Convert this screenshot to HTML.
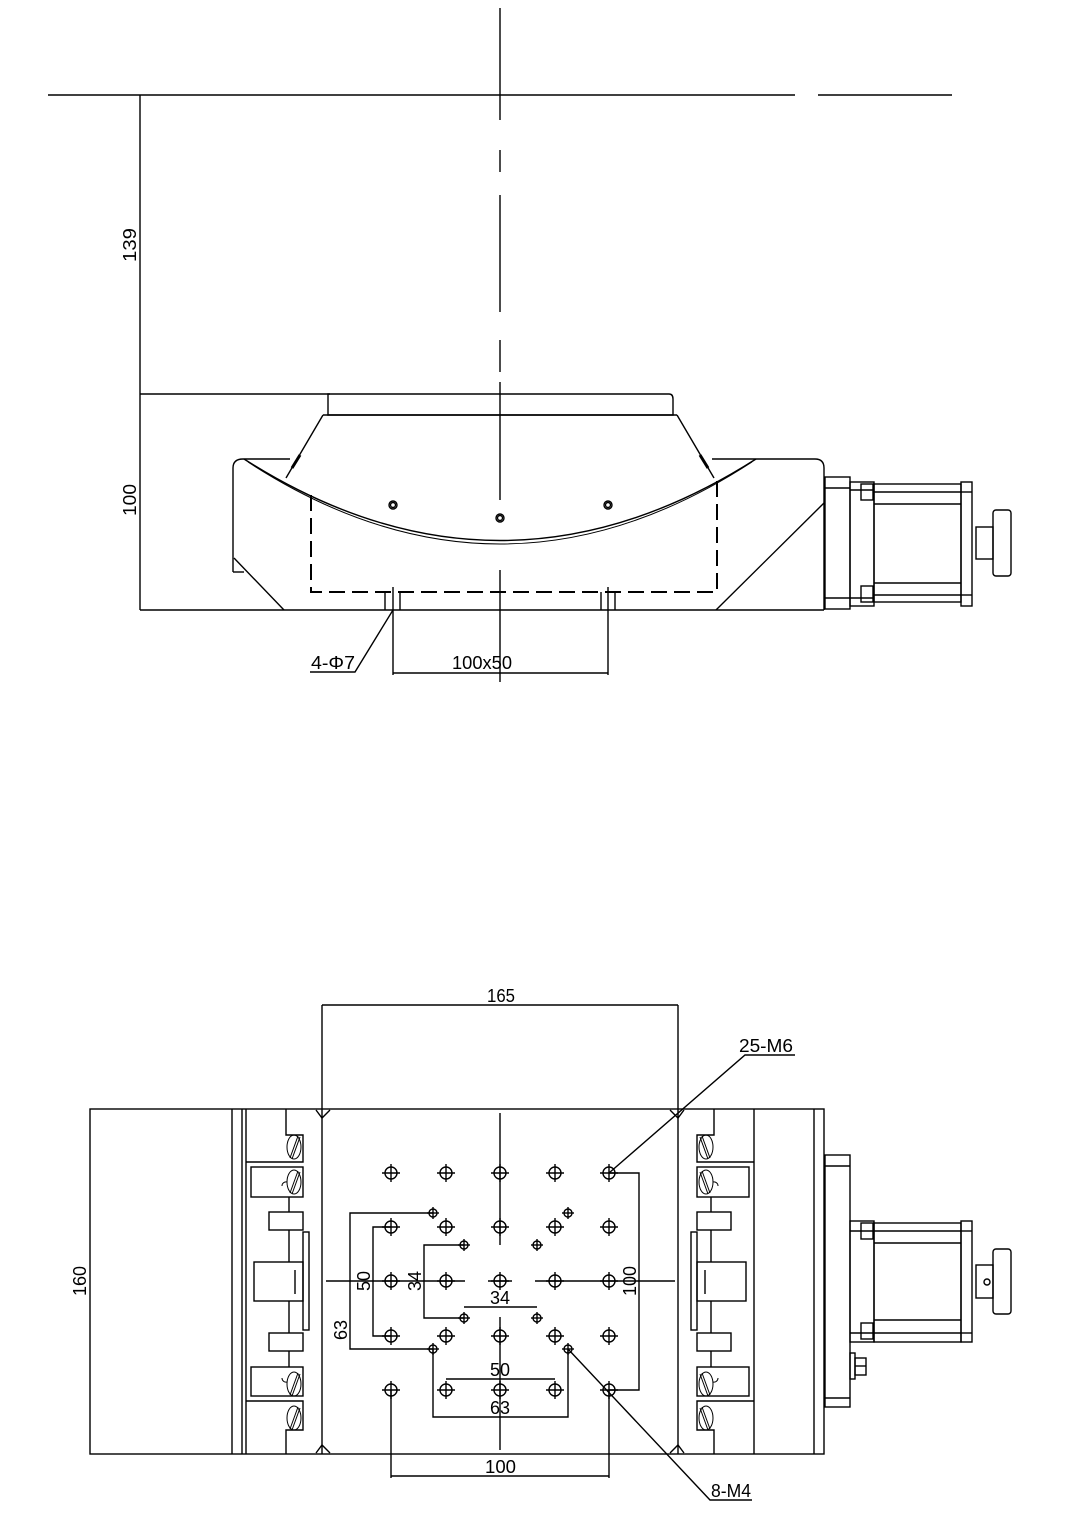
<!DOCTYPE html>
<html><head><meta charset="utf-8"><style>
html,body{margin:0;padding:0;background:#fff;}
svg{display:block;}
text{font-family:"Liberation Sans",sans-serif;font-size:18px;fill:#000;}
</style></head><body>
<svg width="1090" height="1515" viewBox="0 0 1090 1515" xmlns="http://www.w3.org/2000/svg">
<g fill="none" stroke="#000" stroke-width="1.4">
<!-- ===== TOP VIEW ===== -->
<line x1="48" y1="95" x2="795" y2="95"/>
<line x1="818" y1="95" x2="952" y2="95"/>
<!-- centre line -->
<line x1="500" y1="8" x2="500" y2="120"/>
<line x1="500" y1="150" x2="500" y2="172"/>
<line x1="500" y1="195" x2="500" y2="312"/>
<line x1="500" y1="340" x2="500" y2="372"/>
<line x1="500" y1="382" x2="500" y2="500"/>
<line x1="500" y1="570" x2="500" y2="682"/>
<!-- dim lines 139 / 100 -->
<line x1="140" y1="95" x2="140" y2="610"/>
<line x1="140" y1="394" x2="330" y2="394"/>
<!-- top plate -->
<path d="M328,394 H669 Q673,394 673,399 V415 H328 Z"/>
<line x1="323" y1="415" x2="677" y2="415"/>
<!-- cone sides -->
<line x1="323" y1="415" x2="286" y2="478"/>
<line x1="677" y1="415" x2="714" y2="478"/>
<line x1="292" y1="468" x2="300" y2="455" stroke-width="3"/>
<line x1="708" y1="468" x2="700" y2="455" stroke-width="3"/>
<!-- base -->
<path d="M233,572 V468 Q233,459 243,459 H290"/>
<path d="M712,459 H815 Q824,459 824,468 V610"/>
<line x1="233" y1="572" x2="244" y2="572"/>
<line x1="234" y1="558" x2="284" y2="610"/>
<line x1="716" y1="610" x2="824" y2="503"/>
<line x1="140" y1="610" x2="824" y2="610"/>
<!-- arc -->
<path d="M244,459 Q500,622 756,459"/>
<path d="M248,462 Q500,626 752,462" stroke-width="1"/>
<!-- dashed rect -->
<path d="M311,495 V592 H717 V478" stroke-dasharray="16,7" stroke-width="2"/>
<!-- small holes -->
<circle cx="393" cy="505" r="4"/><circle cx="393" cy="505" r="2.5"/>
<circle cx="500" cy="518" r="4"/><circle cx="500" cy="518" r="2.5"/>
<circle cx="608" cy="505" r="4"/><circle cx="608" cy="505" r="2.5"/>
<!-- counterbores -->
<line x1="385" y1="592" x2="385" y2="610"/>
<line x1="400" y1="592" x2="400" y2="610"/>
<line x1="601" y1="592" x2="601" y2="610"/>
<line x1="615" y1="592" x2="615" y2="610"/>
<line x1="393" y1="587" x2="393" y2="675"/>
<line x1="608" y1="587" x2="608" y2="675"/>
<line x1="393" y1="673" x2="608" y2="673"/>
<!-- leader 4-phi7 -->
<polyline points="393,610 355,672 310,672"/>
<!-- top motor -->
<rect x="825" y="477" width="25" height="132"/>
<line x1="825" y1="488" x2="850" y2="488"/><line x1="825" y1="598" x2="850" y2="598"/>
<rect x="850" y="482" width="24" height="124"/>
<line x1="850" y1="490" x2="874" y2="490"/><line x1="850" y1="598" x2="874" y2="598"/>
<rect x="861" y="484" width="12" height="16"/><rect x="861" y="586" width="12" height="16"/>
<rect x="874" y="484" width="87" height="118"/>
<line x1="874" y1="492" x2="961" y2="492"/><line x1="874" y1="504" x2="961" y2="504"/>
<line x1="874" y1="583" x2="961" y2="583"/><line x1="874" y1="595" x2="961" y2="595"/>
<rect x="961" y="482" width="11" height="124"/>
<line x1="961" y1="492" x2="972" y2="492"/><line x1="961" y1="595" x2="972" y2="595"/>
<rect x="976" y="527" width="17" height="32"/>
<rect x="993" y="510" width="18" height="66" rx="3"/>

<!-- ===== BOTTOM VIEW ===== -->
<rect x="90" y="1109" width="734" height="345"/>
<line x1="232" y1="1109" x2="232" y2="1454"/>
<line x1="242" y1="1109" x2="242" y2="1454"/>
<line x1="814" y1="1109" x2="814" y2="1454"/>
<line x1="322" y1="1005" x2="322" y2="1454"/>
<line x1="678" y1="1005" x2="678" y2="1454"/>
<line x1="322" y1="1005" x2="678" y2="1005"/>
<path d="M316,1110 L322,1118 L330,1110 M316,1453 L322,1445 L330,1453 M670,1110 L678,1118 L684,1110 M670,1453 L678,1445 L684,1453"/>
<!-- left side mechanism -->
<g id="side">
<line x1="246" y1="1109" x2="246" y2="1454"/>
<polyline points="286,1109 286,1135 303,1135 303,1162 246,1162"/>
<rect x="251" y="1167" width="52" height="30"/>
<line x1="289" y1="1197" x2="289" y2="1212"/>
<rect x="269" y="1212" width="34" height="18"/>
<line x1="289" y1="1230" x2="289" y2="1262"/>
<rect x="303" y="1232" width="6" height="98"/>
<rect x="254" y="1262" width="49" height="39"/>
<line x1="295" y1="1270" x2="295" y2="1294"/>
<line x1="289" y1="1301" x2="289" y2="1333"/>
<rect x="269" y="1333" width="34" height="18"/>
<line x1="289" y1="1351" x2="289" y2="1367"/>
<rect x="251" y="1367" width="52" height="29"/>
<polyline points="246,1401 303,1401 303,1430 286,1430 286,1454"/>
<g stroke-width="1">
<ellipse cx="294" cy="1147" rx="7" ry="12"/><line x1="290" y1="1158" x2="298" y2="1136"/><line x1="292" y1="1159" x2="300" y2="1137"/>
<ellipse cx="294" cy="1182" rx="7" ry="12"/><line x1="290" y1="1193" x2="298" y2="1171"/><line x1="292" y1="1194" x2="300" y2="1172"/>
<ellipse cx="294" cy="1384" rx="7" ry="12"/><line x1="290" y1="1395" x2="298" y2="1373"/><line x1="292" y1="1396" x2="300" y2="1374"/>
<ellipse cx="294" cy="1418" rx="7" ry="12"/><line x1="290" y1="1429" x2="298" y2="1407"/><line x1="292" y1="1430" x2="300" y2="1408"/>
<path d="M287,1182 a4,4 0 0 0 -5,4 M287,1382 a4,4 0 0 1 -5,-4"/>
</g>
</g>
<use href="#side" transform="translate(1000,0) scale(-1,1)"/>
<!-- centre lines -->
<line x1="500" y1="1113" x2="500" y2="1245"/>
<line x1="500" y1="1317" x2="500" y2="1450"/>
<line x1="326" y1="1281" x2="465" y2="1281"/>
<line x1="488" y1="1281" x2="512" y2="1281"/>
<line x1="535" y1="1281" x2="675" y2="1281"/>
<!-- 25 M6 holes -->
<g id="m6row">
<g id="h"><circle cx="391" cy="1173" r="6"/><line x1="391" y1="1164" x2="391" y2="1182"/><line x1="382" y1="1173" x2="400" y2="1173"/></g>
<use href="#h" x="55"/><use href="#h" x="109"/><use href="#h" x="164"/><use href="#h" x="218"/>
</g>
<use href="#m6row" y="54"/><use href="#m6row" y="108"/><use href="#m6row" y="163"/><use href="#m6row" y="217"/>
<!-- 8 M4 -->
<g id="s"><circle cx="433" cy="1213" r="4"/><line x1="433" y1="1207" x2="433" y2="1219"/><line x1="427" y1="1213" x2="439" y2="1213"/></g>
<use href="#s" x="135"/><use href="#s" x="31" y="32"/><use href="#s" x="104" y="32"/>
<use href="#s" x="31" y="105"/><use href="#s" x="104" y="105"/><use href="#s" y="136"/><use href="#s" x="135" y="136"/>
<!-- dims -->
<polyline points="433,1213 350,1213 350,1349 433,1349"/>
<polyline points="391,1227 373,1227 373,1336 391,1336"/>
<polyline points="464,1245 424,1245 424,1318 464,1318"/>
<line x1="464" y1="1307" x2="537" y2="1307"/>
<line x1="446" y1="1379" x2="555" y2="1379"/>
<polyline points="433,1349 433,1417 568,1417 568,1349"/>
<polyline points="609,1173 639,1173 639,1390 609,1390"/>
<line x1="391" y1="1390" x2="391" y2="1478"/>
<line x1="609" y1="1390" x2="609" y2="1478"/>
<line x1="391" y1="1476" x2="609" y2="1476"/>
<polyline points="609,1173 745,1055 795,1055"/>
<polyline points="568,1349 710,1500 752,1500"/>
<!-- bottom motor -->
<rect x="825" y="1155" width="25" height="252"/>
<line x1="825" y1="1166" x2="850" y2="1166"/><line x1="825" y1="1398" x2="850" y2="1398"/>
<rect x="850" y="1221" width="24" height="121"/>
<line x1="850" y1="1231" x2="874" y2="1231"/><line x1="850" y1="1333" x2="874" y2="1333"/>
<rect x="861" y="1223" width="12" height="16"/><rect x="861" y="1323" width="12" height="16"/>
<rect x="874" y="1223" width="87" height="119"/>
<line x1="874" y1="1231" x2="961" y2="1231"/><line x1="874" y1="1243" x2="961" y2="1243"/>
<line x1="874" y1="1320" x2="961" y2="1320"/><line x1="874" y1="1333" x2="961" y2="1333"/>
<rect x="961" y="1221" width="11" height="121"/>
<line x1="961" y1="1231" x2="972" y2="1231"/><line x1="961" y1="1333" x2="972" y2="1333"/>
<rect x="976" y="1265" width="17" height="33"/>
<circle cx="987" cy="1282" r="3"/>
<rect x="993" y="1249" width="18" height="65" rx="3"/>
<rect x="850" y="1353" width="5" height="26"/>
<rect x="855" y="1358" width="11" height="17"/>
<line x1="855" y1="1366" x2="866" y2="1366"/>
</g>
<!-- text -->
<text x="140" y="245" transform="rotate(-90 140 245)" text-anchor="middle" dy="-4" textLength="34" lengthAdjust="spacingAndGlyphs">139</text>
<text x="140" y="500" transform="rotate(-90 140 500)" text-anchor="middle" dy="-4" textLength="32" lengthAdjust="spacingAndGlyphs">100</text>
<text x="311" y="669" textLength="44" lengthAdjust="spacingAndGlyphs">4-Φ7</text>
<text x="452" y="669" textLength="60" lengthAdjust="spacingAndGlyphs">100x50</text>
<text x="487" y="1002" textLength="28" lengthAdjust="spacingAndGlyphs">165</text>
<text x="739" y="1052" textLength="54" lengthAdjust="spacingAndGlyphs">25-M6</text>
<text x="711" y="1497" textLength="40" lengthAdjust="spacingAndGlyphs">8-M4</text>
<text x="485" y="1473" textLength="31" lengthAdjust="spacingAndGlyphs">100</text>
<text x="90" y="1281" transform="rotate(-90 90 1281)" text-anchor="middle" dy="-4" textLength="30" lengthAdjust="spacingAndGlyphs">160</text>
<text x="350" y="1330" transform="rotate(-90 350 1330)" text-anchor="middle" dy="-3" textLength="20" lengthAdjust="spacingAndGlyphs">63</text>
<text x="373" y="1281" transform="rotate(-90 373 1281)" text-anchor="middle" dy="-3" textLength="20" lengthAdjust="spacingAndGlyphs">50</text>
<text x="424" y="1281" transform="rotate(-90 424 1281)" text-anchor="middle" dy="-3" textLength="20" lengthAdjust="spacingAndGlyphs">34</text>
<text x="639" y="1281" transform="rotate(-90 639 1281)" text-anchor="middle" dy="-3" textLength="30" lengthAdjust="spacingAndGlyphs">100</text>
<text x="490" y="1304" textLength="20" lengthAdjust="spacingAndGlyphs">34</text>
<text x="490" y="1376" textLength="20" lengthAdjust="spacingAndGlyphs">50</text>
<text x="490" y="1414" textLength="20" lengthAdjust="spacingAndGlyphs">63</text>
</svg>
</body></html>
